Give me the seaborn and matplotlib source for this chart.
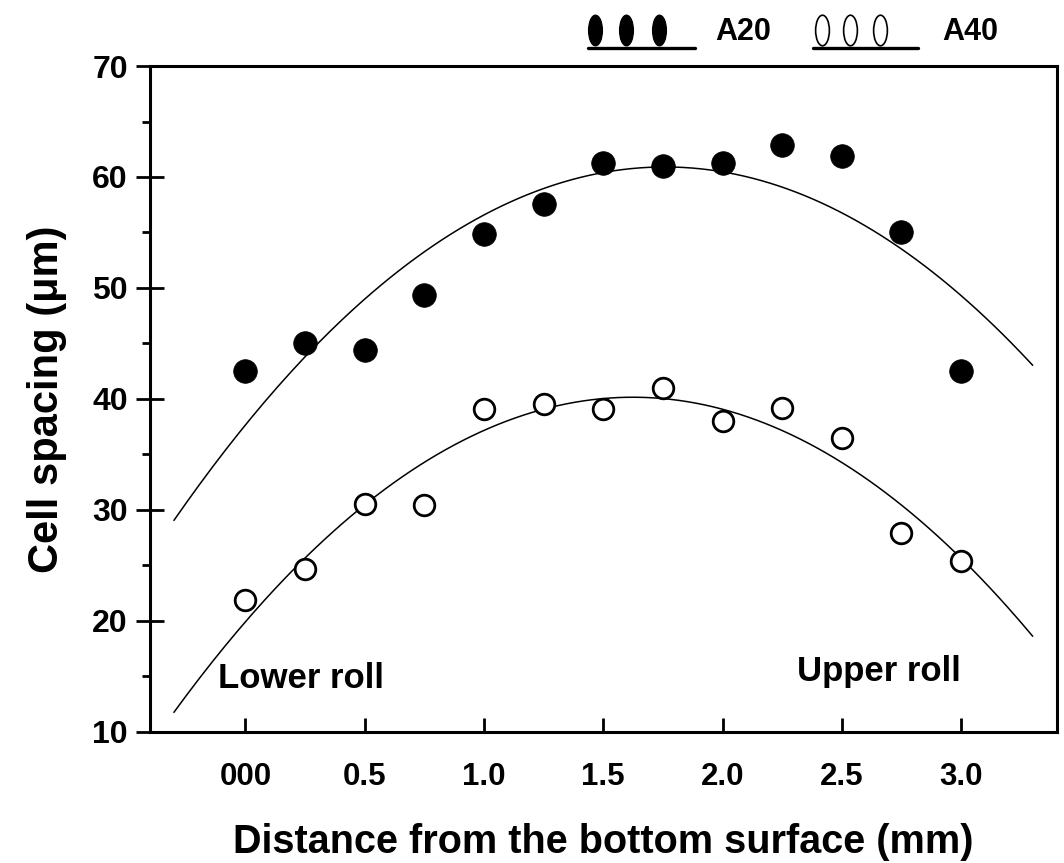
import numpy as np
import pandas as pd
import matplotlib
matplotlib.use("Agg")
import matplotlib.pyplot as plt
import seaborn as sns
from matplotlib.lines import Line2D
from matplotlib.path import Path
from matplotlib.transforms import Affine2D

# ---- data ----
distance = [0.0, 0.25, 0.5, 0.75, 1.0, 1.25, 1.5, 1.75, 2.0, 2.25, 2.5, 2.75, 3.0]
a20_spacing = [42.5, 45.0, 44.4, 49.4, 54.9, 57.6, 61.3, 61.0, 61.3, 62.9, 61.9, 55.0, 42.5]
a40_spacing = [21.9, 24.7, 30.5, 30.4, 39.1, 39.5, 39.1, 41.0, 38.0, 39.2, 36.5, 27.9, 25.4]
xtick_values = [0.0, 0.5, 1.0, 1.5, 2.0, 2.5, 3.0]
xtick_labels = ["000", "0.5", "1.0", "1.5", "2.0", "2.5", "3.0"]
ytick_values = [10, 20, 30, 40, 50, 60, 70]
series_names = ["A20", "A40"]

df = pd.DataFrame({
    "x": distance * 2,
    "y": a20_spacing + a40_spacing,
    "alloy": [series_names[0]] * len(distance) + [series_names[1]] * len(distance),
})

sns.set_theme(style="ticks")
plt.rcParams["font.family"] = ["Liberation Sans", "DejaVu Sans"]
plt.rcParams["font.weight"] = "bold"
plt.rcParams["text.color"] = "black"
plt.rcParams["axes.labelcolor"] = "black"
plt.rcParams["xtick.color"] = "black"
plt.rcParams["ytick.color"] = "black"

fig = plt.figure(figsize=(10.64, 8.63), dpi=100)
ax = fig.add_axes([0.141, 0.152, 0.852, 0.7715])

# quadratic fit curves derived from the data
xfit = np.linspace(-0.3, 3.3, 200)
for name, vals in zip(series_names, [a20_spacing, a40_spacing]):
    coef = np.polyfit(distance, vals, 2)
    sns.lineplot(x=xfit, y=np.polyval(coef, xfit), ax=ax, color="black",
                 linewidth=1.1, legend=False)

sub = df[df.alloy == "A20"]
sns.scatterplot(data=sub, x="x", y="y", ax=ax, s=290, color="black",
                edgecolor="black", linewidth=0.5, legend=False, zorder=3)
sub = df[df.alloy == "A40"]
sns.scatterplot(data=sub, x="x", y="y", ax=ax, s=220, facecolor="white",
                edgecolor="black", linewidth=2.0, legend=False, zorder=3)

ax.set_xlim(-0.4, 3.4)
ax.set_ylim(10, 70)
ax.set_xticks(xtick_values)
ax.set_xticklabels(xtick_labels)
ax.set_yticks(ytick_values)
ax.set_yticks([15, 25, 35, 45, 55, 65], minor=True)

for sp in ax.spines.values():
    sp.set_visible(True)
    sp.set_linewidth(2.2)
    sp.set_color("black")

ax.tick_params(axis="x", which="major", direction="in", length=10, width=2,
               pad=22, labelsize=22.5, colors="black")
ax.tick_params(axis="y", which="major", direction="inout", length=20, width=2,
               pad=6, labelsize=23, colors="black")
ax.tick_params(axis="y", which="minor", direction="out", length=6, width=2)
for lab in ax.get_xticklabels() + ax.get_yticklabels():
    lab.set_fontweight("bold")

ax.set_xlabel("Distance from the bottom surface (mm)", fontsize=28.5,
              fontweight="bold", labelpad=22)
ax.set_ylabel("Cell spacing (μm)", fontsize=30, fontweight="bold", labelpad=18)
ax.grid(False)

ax.text(-0.113, 14.8, "Lower roll", fontsize=25, fontweight="bold", va="center", ha="left")
ax.text(2.31, 15.4, "Upper roll", fontsize=25, fontweight="bold", va="center", ha="left")

# ---- custom legend at the top ----
ell = Path.unit_circle().transformed(Affine2D().scale(0.45, 1.0))
fig.add_artist(Line2D([0.559, 0.588, 0.619], [0.965] * 3, transform=fig.transFigure,
                      linestyle="none", marker=ell, markersize=22,
                      color="black", markerfacecolor="black"))
fig.add_artist(Line2D([0.553, 0.653], [0.944, 0.944], transform=fig.transFigure,
                      color="black", linewidth=2.4))
fig.text(0.672, 0.963, "A20", fontsize=22, fontweight="bold", va="center", ha="left",
         family=["Liberation Sans Narrow", "Liberation Sans", "DejaVu Sans"])
fig.add_artist(Line2D([0.7726, 0.799, 0.827], [0.965] * 3, transform=fig.transFigure,
                      linestyle="none", marker=ell, markersize=22,
                      markerfacecolor="none", markeredgecolor="black",
                      markeredgewidth=1.2))
fig.add_artist(Line2D([0.764, 0.863], [0.944, 0.944], transform=fig.transFigure,
                      color="black", linewidth=2.4))
fig.text(0.886, 0.963, "A40", fontsize=22, fontweight="bold", va="center", ha="left",
         family=["Liberation Sans Narrow", "Liberation Sans", "DejaVu Sans"])

fig.savefig("out.png", dpi=100, facecolor="white")
